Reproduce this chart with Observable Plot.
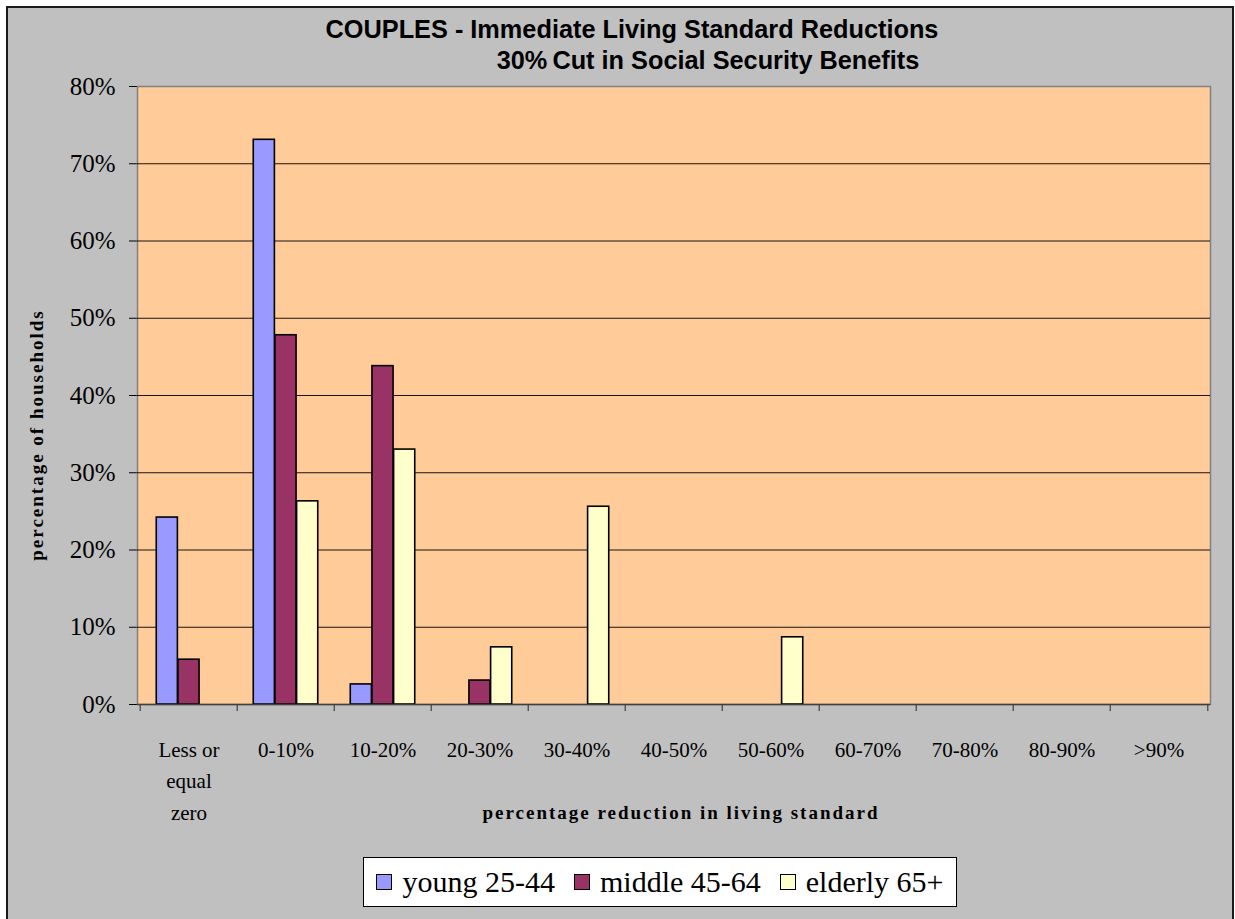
<!DOCTYPE html>
<html>
<head>
<meta charset="utf-8">
<script src="https://cdn.jsdelivr.net/npm/d3@7"></script>
<script src="https://cdn.jsdelivr.net/npm/@observablehq/plot@0.6"></script>
<style>
  html, body { margin: 0; padding: 0; background: #fff; }
  #page { position: relative; width: 1235px; height: 919px; overflow: hidden; }
  #box { position: absolute; left: 6px; top: 6px; width: 1224px; height: 940px; background: #C0C0C0; border: 2px solid #1a1a1a; }
  #chart { position: absolute; left: 0; top: 0; }
  .title { position: absolute; font-family: "Liberation Sans", Arial, sans-serif; font-weight: bold; font-size: 25.3px; color: #000; white-space: nowrap; transform: translate(-50%, -50%); }
  .axtitle { position: absolute; font-family: "Liberation Serif", serif; font-weight: bold; font-size: 19px; white-space: nowrap; color: #000; }
  #legend { position: absolute; left: 363px; top: 857px; width: 592px; height: 48px; background: #fff; border: 1px solid #000; display: flex; align-items: center; justify-content: center; font-family: "Liberation Serif", serif; font-size: 30px; color: #000; }
  .sw { display: inline-block; width: 14px; height: 14px; border: 1.5px solid #000; margin-right: 10px; }
  .item { display: flex; align-items: center; margin-right: 19px; font-family: "Liberation Serif", serif; }
  .item:last-child { margin-right: 0; }
</style>
</head>
<body>
<div id="page">
  <div id="box"></div>
  <div class="title" style="left:632px; top:29px;">COUPLES - Immediate Living Standard Reductions</div>
  <div class="title" style="left:708px; top:60px;">30%&#8201;Cut in Social Security Benefits</div>
  <div id="chart"></div>
  <div class="axtitle" style="left:37px; top:435px; transform: translate(-50%,-50%) rotate(-90deg); letter-spacing: 2px;">percentage of households</div>
  <div class="axtitle" style="left:681px; top:813px; transform: translate(-50%,-50%); letter-spacing: 2px;">percentage reduction in living standard</div>
  <div id="legend"></div>
</div>
<script>
// ---- data ----
const categories = ["Less or equal zero", "0-10%", "10-20%", "20-30%", "30-40%", "40-50%", "50-60%", "60-70%", "70-80%", "80-90%", ">90%"];
const tickLabels = ["Less or\nequal\nzero", "0-10%", "10-20%", "20-30%", "30-40%", "40-50%", "50-60%", "60-70%", "70-80%", "80-90%", ">90%"];
const seriesNames = ["young 25-44", "middle 45-64", "elderly 65+"];
const young   = [24.2, 73.1,  2.6, 0,   0,    0, 0,   0, 0, 0, 0];
const middle  = [ 5.8, 47.8, 43.8, 3.1, 0,    0, 0,   0, 0, 0, 0];
const elderly = [ 0,   26.3, 33.0, 7.4, 25.6, 0, 8.7, 0, 0, 0, 0];
const yTicks = [0, 10, 20, 30, 40, 50, 60, 70, 80];
const colors = ["#9999FF", "#993366", "#FFFFCC"];

// ---- build table ----
const seriesValues = [young, middle, elderly];
const rows = [];
seriesNames.forEach((s, si) => categories.forEach((c, ci) => {
  rows.push({category: c, series: s, value: seriesValues[si][ci], si});
}));

const W = 1235, H = 919, mL = 137, mR = 25, mT = 86, mB = 215;
const step = (W - mL - mR) / categories.length;
const barW = step * 2 / 9;
const groupStart = step / 6;

const barMarks = seriesNames.map((s, si) => Plot.barY(rows.filter(d => d.si === si && d.value > 0), {
  x: "category",
  y: "value",
  fill: colors[si],
  stroke: "#000",
  strokeWidth: 1.6,
  insetLeft: groupStart + si * barW,
  insetRight: step - groupStart - (si + 1) * barW
}));

const chart = Plot.plot({
  width: W,
  height: H,
  marginLeft: mL,
  marginRight: mR,
  marginTop: mT,
  marginBottom: mB,
  style: {background: "transparent", fontFamily: "'Liberation Serif', serif", fontSize: "25px", color: "#000"},
  x: {domain: categories, padding: 0, axis: null},
  y: {domain: [0, 80], ticks: yTicks, tickFormat: d => d + "%", tickSize: 8, tickPadding: 14, label: null, line: true},
  marks: [
    Plot.frame({fill: "#FFCC99", stroke: "#808080", strokeWidth: 1.5}),
    Plot.gridY(yTicks.filter(t => t > 0 && t < 80), {stroke: "#000", strokeOpacity: 0.9, strokeWidth: 1}),
    ...barMarks,
    Plot.ruleY([0], {stroke: "#404040", strokeWidth: 1.5}),
    Plot.ruleX(categories, {x: d => d, dx: -step / 2, y1: 0, y2: 0, insetBottom: -7, stroke: "#404040", strokeWidth: 1.2}),
    Plot.ruleX([categories[categories.length - 1]], {x: d => d, dx: step / 2, y1: 0, y2: 0, insetBottom: -7, stroke: "#404040", strokeWidth: 1.2}),
    Plot.text(categories, {x: d => d, y: () => 0, text: (d, i) => tickLabels[i], dy: 30, lineAnchor: "top", lineHeight: 1.5, fontSize: 21, fontFamily: "'Liberation Serif', serif", fill: "#000"})
  ]
});
document.getElementById("chart").appendChild(chart);

// ---- legend ----
const legend = document.getElementById("legend");
seriesNames.forEach((s, i) => {
  const item = document.createElement("span");
  item.className = "item";
  const sw = document.createElement("span");
  sw.className = "sw";
  sw.style.background = colors[i];
  item.appendChild(sw);
  item.appendChild(document.createTextNode(s));
  legend.appendChild(item);
});
</script>
</body>
</html>
